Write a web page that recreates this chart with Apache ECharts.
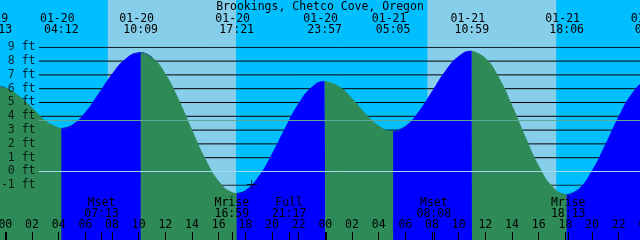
<!DOCTYPE html>
<html><head><meta charset="utf-8">
<script src="https://cdn.jsdelivr.net/npm/echarts@6/dist/echarts.min.js"></script>
<style>html,body{margin:0;padding:0;background:#00BFFF}#c{width:640px;height:240px}</style>
</head><body><div id="c"></div>
<script>
const chartTitle = 'Brookings, Chetco Cove, Oregon';
// tide heights (ft), one per hour, starting 01-20 at hour -1
const hourStart = -1;
const hourlyFt = [6.19, 6.05, 5.45, 4.6, 3.65, 3.14, 3.34, 4.25, 5.60, 7.01, 8.11, 8.59, 8.25, 7.03, 5.14, 2.94,
  0.85, -0.74, -1.54, -1.41, -0.41, 1.22, 3.12, 4.88, 6.09, 6.50, 6.14, 5.26, 4.17, 3.28, 2.90, 3.24, 4.29,
  5.75, 7.23, 8.31, 8.70, 8.18, 6.77, 4.73, 2.45, 0.37, -1.10, -1.69, -1.30, 0.00, 1.88, 3.92, 5.61, 6.57, 6.62];
// high / low tides
const extremeDates = ['01-19', '01-20', '01-20', '01-20', '01-20', '01-21', '01-21', '01-21', '01-22'];
const extremeTimes = ['23:13', '04:12', '10:09', '17:21', '23:57', '05:05', '10:59', '18:06', '00:30'];
const extremeFt = [6.2, 3.1, 8.6, -1.6, 6.5, 2.9, 8.7, -1.7, 6.7];
// moon events
const moonNames = ['Mset', 'Mrise', 'Full', 'Mset', 'Mrise'];
const moonDates = ['01-20', '01-20', '01-20', '01-21', '01-21'];
const moonTimes = ['07:13', '16:59', '21:17', '08:08', '18:13'];
// daylight
const sunDates = ['01-20', '01-21'];
const sunriseTimes = ['07:41', '07:39'];
const sunsetTimes = ['17:18', '17:19'];
// hour ticks (hours from 01-20 00:00)
const hourTickValues = [-2, 0, 2, 4, 6, 8, 10, 12, 14, 16, 18, 20, 22, 24, 26, 28, 30, 32, 34, 36, 38, 40, 42, 44, 46, 48, 50];
const midnightValues = [0, 24, 48];
// depth grid lines (ft)
const ftLines = [-1, 0, 1, 2, 3, 4, 5, 6, 7, 8, 9];
const mslFt = 3.7;
const datumFt = 0;
const nowDate = '01-20', nowTime = '18:29', nowFt = -0.95;

const FONT = 'DejaVu Sans Mono';
const FS = 11.5;
const BLUE = '#0000FF', GREEN = '#2E8B57', NIGHT = '#00BFFF', DAY = '#87CEEB';

function toHours(d, t) {
  const day = parseInt(d.slice(3), 10);
  const [hh, mm] = t.split(':').map(Number);
  return (day - 20) * 24 + hh + mm / 60;
}
const extT = extremeDates.map((d, i) => toHours(d, extremeTimes[i]));
const moonT = moonDates.map((d, i) => toHours(d, moonTimes[i]));

const curve = hourlyFt.map((v, i) => [hourStart + i, v]);
extT.forEach((t, i) => curve.push([t, extremeFt[i]]));
curve.sort((a, b) => a[0] - b[0]);

// rising (flood) and falling (ebb) pieces of the curve between extremes
const n = extT.length;
const bounds = [-Infinity].concat(extT, [Infinity]);
const tideSeries = [];
for (let k = 0; k <= n; k++) {
  const lo = bounds[k], hi = bounds[k + 1];
  const pts = curve.filter(p => p[0] >= lo && p[0] <= hi);
  const after = curve.find(p => p[0] > hi);
  if (after) pts.push(after);
  let rising;
  if (k === 0) rising = extremeFt[0] > extremeFt[1];
  else if (k === n) rising = extremeFt[n - 1] < extremeFt[n - 2];
  else rising = extremeFt[k - 1] < extremeFt[k];
  const col = rising ? BLUE : GREEN;
  tideSeries.push({
    type: 'line', xAxisIndex: 0, yAxisIndex: 0, data: pts, z: 5, smooth: 0.5,
    symbol: 'none', silent: true,
    lineStyle: { color: col, width: 1 },
    areaStyle: { color: col, opacity: 1, origin: 'start' }
  });
}

const ftSeries = ftLines.map(v => ({
  type: 'line', xAxisIndex: 4, yAxisIndex: 1, z: 3, silent: true, symbol: 'none',
  data: [[0, v], [1, v]],
  lineStyle: { color: '#000', width: 1 }
}));

const ftLabelSeries = {
  type: 'scatter', xAxisIndex: 4, yAxisIndex: 1, z: 10, silent: true, clip: false,
  data: ftLines.map(v => [0, v]),
  symbolSize: 1, itemStyle: { color: 'rgba(0,0,0,0)' },
  label: { show: true, position: 'left', distance: 3, fontFamily: FONT, fontSize: FS, color: '#000',
    formatter: p => p.value[1] + ' ft' }
};

const dayBands = sunDates.map((d, i) => [{ xAxis: toHours(d, sunriseTimes[i]) }, { xAxis: toHours(d, sunsetTimes[i]) }]);

function nearest(arr, v) {
  let bi = 0;
  arr.forEach((a, i) => { if (Math.abs(a - v) < Math.abs(arr[bi] - v)) bi = i; });
  return bi;
}

const XMIN = -3.4, XMAX = 50.6;
const YMIN = -4.978, YMAX = 12.413;
const baseX = { type: 'value', gridIndex: 0, min: XMIN, max: XMAX, z: 10,
  axisLine: { show: false, onZero: false }, splitLine: { show: false } };

const option = {
  backgroundColor: NIGHT,
  animation: false,
  title: {
    text: chartTitle, left: 'center', top: 1, padding: 0, z: 10,
    textStyle: { fontFamily: FONT, fontSize: FS, fontWeight: 'normal', color: '#000' }
  },
  grid: [
    { left: -40, right: -40, top: 0, bottom: 0, outerBoundsMode: 'none', containLabel: false },
    { left: 39, right: 0, top: 47.3, bottom: 54.7, outerBoundsMode: 'none', containLabel: false }
  ],
  xAxis: [
    Object.assign({}, baseX, {
      position: 'bottom',
      axisTick: { show: true, inside: true, length: 8, customValues: hourTickValues, lineStyle: { color: '#000', width: 1 } },
      axisLabel: { show: true, inside: true, margin: 9, customValues: hourTickValues,
        fontFamily: FONT, fontSize: FS, color: '#000',
        formatter: v => String(((v % 24) + 24) % 24).padStart(2, '0') }
    }),
    Object.assign({}, baseX, {
      position: 'top',
      axisTick: { show: false },
      axisLabel: { show: true, inside: true, margin: 13.5, customValues: extT,
        formatter: v => { const i = nearest(extT, v); return '{d|' + extremeDates[i] + '}\n{t|' + extremeTimes[i] + '}'; },
        rich: {
          d: { fontFamily: FONT, fontSize: FS, color: '#000', lineHeight: 11, padding: [0, 8, 0, 0] },
          t: { fontFamily: FONT, fontSize: FS, color: '#000', lineHeight: 11 }
        }
      }
    }),
    Object.assign({}, baseX, {
      position: 'bottom',
      axisTick: { show: true, inside: true, length: 8, customValues: moonT, lineStyle: { color: '#000', width: 1 } },
      axisLabel: { show: true, inside: true, margin: 21, customValues: moonT,
        formatter: v => { const i = nearest(moonT, v); return '{a|' + moonNames[i] + '}\n{a|' + moonTimes[i] + '}'; },
        rich: { a: { fontFamily: FONT, fontSize: FS, color: '#000', lineHeight: 10.5 } }
      }
    }),
    Object.assign({}, baseX, {
      position: 'bottom',
      axisTick: { show: true, inside: true, length: 8, customValues: midnightValues, lineStyle: { color: '#000', width: 2 } },
      axisLabel: { show: false }
    }),
    { type: 'value', gridIndex: 1, min: 0, max: 1, show: false }
  ],
  yAxis: [
    { type: 'value', gridIndex: 0, min: YMIN, max: YMAX, show: false },
    { type: 'value', gridIndex: 1, min: -1, max: 9, show: false }
  ],
  series: [
    {
      type: 'line', xAxisIndex: 0, yAxisIndex: 0, data: [], z: 1, silent: true,
      markArea: { silent: true, z: 1, itemStyle: { color: DAY, opacity: 1 }, data: dayBands }
    }
  ].concat(ftSeries, tideSeries, [
    {
      type: 'line', xAxisIndex: 4, yAxisIndex: 1, data: [], z: 6, silent: true,
      markLine: {
        silent: true, z: 6, symbol: 'none', label: { show: false },
        data: [
          { yAxis: mslFt, lineStyle: { color: '#5fa99a', width: 1, type: 'solid' } },
          { yAxis: datumFt, lineStyle: { color: '#a0d8ef', width: 1, type: 'solid' } }
        ]
      }
    },
    {
      type: 'scatter', xAxisIndex: 0, yAxisIndex: 0, z: 7, silent: true,
      data: [[toHours(nowDate, nowTime), nowFt]],
      symbol: 'path://M0,4h10v1H0z M4.5,0h1v9h-1z', symbolSize: [10, 9],
      itemStyle: { color: '#000' }
    },
    ftLabelSeries
  ])
};
const chart = echarts.init(document.getElementById('c'), null, { renderer: 'canvas' });
chart.setOption(option);
</script></body></html>
